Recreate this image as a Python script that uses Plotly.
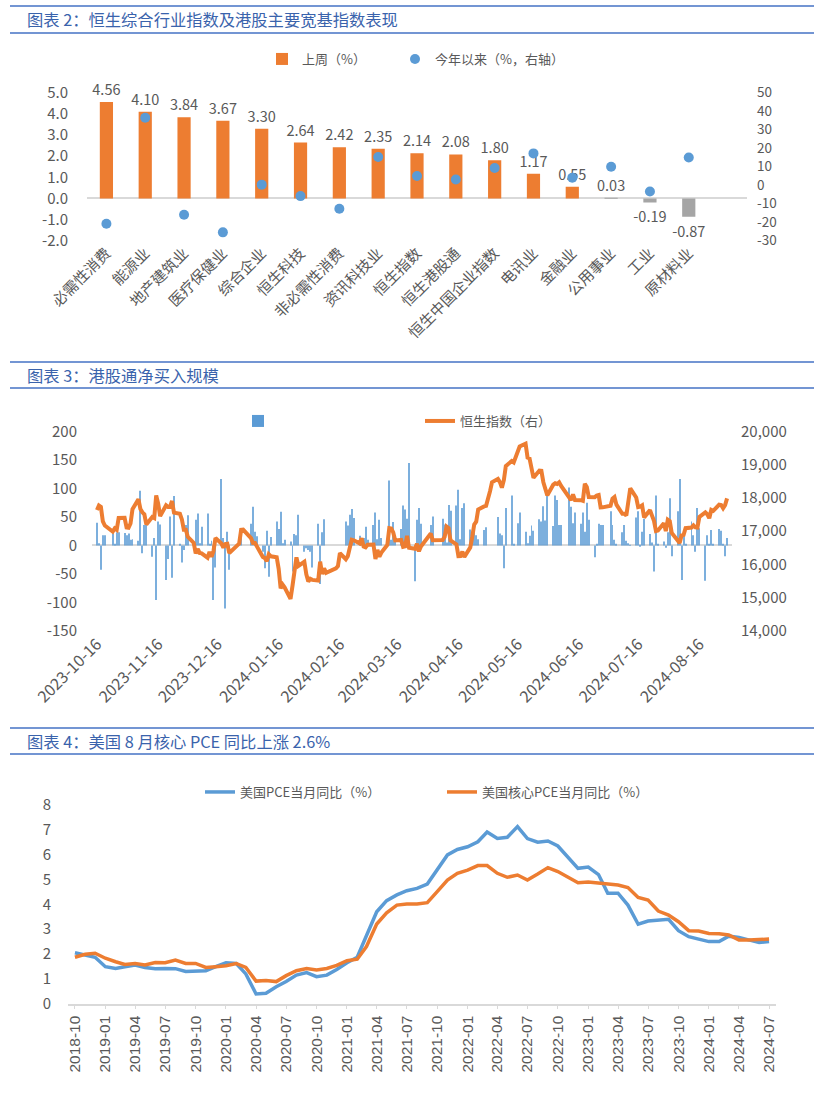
import pandas as pd
import plotly.graph_objects as go

W, H = 814, 1098

# ---------- 图表2 ----------
sectors = ["必需性消费", "能源业", "地产建筑业", "医疗保健业", "综合企业", "恒生科技",
           "非必需性消费", "资讯科技业", "恒生指数", "恒生港股通", "恒生中国企业指数",
           "电讯业", "金融业", "公用事业", "工业", "原材料业"]
week_pct = [4.56, 4.10, 3.84, 3.67, 3.30, 2.64, 2.42, 2.35, 2.14, 2.08, 1.80,
            1.17, 0.55, 0.03, -0.19, -0.87]
ytd_pct = [-20.8, 36.5, -16.0, -25.5, 0.3, -5.9, -12.7, 15.2, 5.0, 3.1, 9.3,
           17.2, 4.0, 10.0, -3.4, 15.0]
left_ticks1 = [-2, -1, 0, 1, 2, 3, 4, 5]
right_ticks1 = [-30, -20, -10, 0, 10, 20, 30, 40, 50]

# ---------- 图表3 ----------
hk_holidays = ["2023-10-23", "2023-12-25", "2023-12-26", "2024-01-01", "2024-02-12",
               "2024-02-13", "2024-03-29", "2024-04-01", "2024-04-04", "2024-05-01",
               "2024-05-15", "2024-06-10", "2024-07-01"]
trade_days = [d for d in pd.bdate_range("2023-10-16", "2024-08-30")
              if d.strftime("%Y-%m-%d") not in hk_holidays]

# 恒生指数收盘
hsi_close = [
    17640, 17773, 17732, 17295, 17172, 16991, 17085, 17044, 17399, 17406, 17112,
    17101, 17231, 17664, 17966, 17671, 17568, 17511, 17203, 17427, 17396, 18079,
    17833, 17454, 17779, 17733, 17734, 17911, 17559, 17525, 17354, 17043, 17042,
    16830, 16646, 16328, 16463, 16345, 16334, 16201, 16374, 16228, 16402, 16792,
    16629, 16505, 16613, 16621, 16341, 16625, 17043, 17047,
    16789, 16646, 16645, 16535, 16224, 16190, 16097, 16302, 16244, 16217, 15866,
    15277, 15391, 15309, 14961, 15353, 15900, 16212, 15952, 16077, 15703, 15485,
    15566, 15533, 15510, 16082, 15708, 15878, 15746, 15879, 15944, 16340, 16156,
    16248, 16503, 16743, 16726, 16634, 16790, 16536, 16511,
    16589, 16596, 16163, 16438, 16230, 16353, 16588, 17093, 17082, 16961, 16721,
    16737, 16529, 16543, 16863, 16499, 16473, 16618, 16392, 16541,
    16931, 16725, 16724, 16732, 16828, 17139, 17095, 16721, 16600, 16248, 16251,
    16385, 16224, 16511, 16828, 17201, 17284, 17651, 17747, 17763,
    18207, 18476, 18578, 18479, 18313, 18537, 18963, 19115, 19073, 19376, 19553,
    19636, 19221, 19195, 18868, 18609, 18827, 18821, 18477, 18230, 18080,
    18403, 18445, 18425, 18476, 18367, 17977, 17937, 18112, 17942, 17936, 17916,
    18430, 18335, 18028, 18027, 18072, 18089, 17716, 17719,
    17769, 17979, 18028, 17799, 17524, 17523, 17471, 17832, 18293, 18015, 17727,
    17739, 17778, 17417, 17635, 17469, 17311, 17005, 17022, 17238, 17002, 17345,
    17304, 16946, 16698, 16647, 16877, 16891, 17091, 17112, 17174, 17114, 17109,
    17430, 17569, 17511, 17391, 17641, 17612, 17798, 17790, 17692, 17786, 17989,
]

# 港股通净买入
southbound_net = [
    40, 4, -43, 18, 18, 21, 2, 23, 23, 22, 18,
    21, 10, 11, 8, 96, -14, 36, 38, -20, 13, -96,
    42, 37, -61, -24, 51, -57, 87, 3, -30, -8, 36,
    53, 4, 45, 56, 4, 33, 56, 2, 8, -96, -39,
    117, 13, -111, 24, -43, 5, 18, 0,
    38, 68, 24, 16, -11, -40, 26, -55, 15, 42, 29,
    59, 4, 10, 7, -46, 20, 18, 54, -11, -5, -8,
    -11, -39, 38, -68, 23, 46, 0, 0, 0, 0, 42,
    35, 54, 64, 48, 17, 10, 13, 33,
    10, 36, 58, 11, 45, 13, 3, 114, 10, 41, 7,
    29, 70, 63, 47, 145, -63, 45, 66, 38,
    36, 51, 0, 47, 37, 5, 71, 61, 70, 98, 11,
    66, 74, 28, 13, 33, 18, 11, 27, 32,
    0, 0, 50, 21, 18, -40, 66, 88, 2, 39, 58,
    24, 4, 17, 35, 26, 46, 42, 69, 44, 88,
    34, 88, 80, 36, 36, 102, 68, 39, 58, 38, 58,
    24, 75, 45, -21, 3, 38, 36, 36,
    60, 36, 10, 3, 23, 36, 8, 4, 1, 49, 60,
    -2, 24, 47, 20, 5, -46, 88, 3, 7, -4, 23,
    83, -19, 60, 117, -61, 18, 2, 42, 18, -11, 66,
    30, -62, 18, 3, 27, 2, 29, 26, 2, -19, 13,
]
flow_ticks = [-150, -100, -50, 0, 50, 100, 150, 200]
hsi_ticks = [14000, 15000, 16000, 17000, 18000, 19000, 20000]
date_ticks = ["2023-10-16", "2023-11-16", "2023-12-16", "2024-01-16", "2024-02-16",
              "2024-03-16", "2024-04-16", "2024-05-16", "2024-06-16", "2024-07-16",
              "2024-08-16"]

# ---------- 图表4 ----------
pce_months = pd.date_range("2018-10-01", "2024-07-01", freq="MS")
pce_yoy = [
    2.05, 1.96, 1.87,
    1.49, 1.42, 1.49, 1.56, 1.46, 1.41, 1.42, 1.41, 1.30, 1.33, 1.33, 1.49,
    1.65, 1.62, 1.20, 0.39, 0.42, 0.68, 0.89, 1.15, 1.25, 1.09, 1.15, 1.38,
    1.65, 1.87, 2.77, 3.70, 4.15, 4.38, 4.55, 4.64, 4.82, 5.38, 5.99, 6.21,
    6.32, 6.52, 6.91, 6.65, 6.70, 7.13, 6.65, 6.50, 6.55, 6.35, 5.90, 5.45,
    5.50, 5.20, 4.45, 4.45, 3.97, 3.20, 3.33, 3.37, 3.40, 2.94, 2.70, 2.60,
    2.50, 2.50, 2.72, 2.67, 2.56, 2.46, 2.50,
]
core_pce_yoy = [
    1.87, 1.99, 2.03,
    1.83, 1.69, 1.58, 1.62, 1.56, 1.66, 1.65, 1.76, 1.62, 1.62, 1.46, 1.49,
    1.53, 1.62, 1.46, 0.91, 0.93, 0.89, 1.13, 1.33, 1.42, 1.36, 1.42, 1.54,
    1.73, 1.79, 2.30, 3.21, 3.66, 3.97, 4.01, 4.01, 4.07, 4.51, 4.98, 5.25,
    5.38, 5.56, 5.56, 5.25, 5.09, 5.18, 4.98, 5.22, 5.48, 5.32, 5.11, 4.87,
    4.90, 4.85, 4.81, 4.78, 4.68, 4.28, 4.17, 3.73, 3.57, 3.30, 2.94, 2.93,
    2.83, 2.82, 2.77, 2.56, 2.56, 2.59, 2.60,
]

ORANGE = "#ED7D31"
BLUE = "#5B9BD5"
GREY = "#A5A5A5"
TXT = "#595959"
AXIS = "#D9D9D9"
TITLE_BLUE = "#3A63AC"
LINE_BLUE = "#4472C4"
FONT = "Noto Sans CJK SC"


def px(x):
    return x / W


def py(y):
    return 1 - y / H


n = min(len(trade_days), len(hsi_close), len(southbound_net))
trade_days = trade_days[:n]

fig = go.Figure()

# 图表2
bar_colors = [ORANGE if v > 0.1 else GREY for v in week_pct]
fig.add_trace(go.Bar(
    x=sectors, y=week_pct, name="上周（%）", width=0.34,
    marker=dict(color=bar_colors, line_width=0),
    text=[f"{v:.2f}" for v in week_pct], textposition="outside",
    constraintext="none", cliponaxis=False,
    textfont=dict(size=14.5, color=TXT),
    xaxis="x", yaxis="y", legend="legend"))
fig.add_trace(go.Scatter(
    x=sectors, y=ytd_pct, name="今年以来（%，右轴）", mode="markers",
    marker=dict(size=10, color=BLUE),
    xaxis="x", yaxis="y2", legend="legend4"))

# 图表3
fig.add_trace(go.Bar(
    x=trade_days, y=southbound_net[:n], name=" ", width=0.5 * 86400000,
    marker=dict(color=BLUE, line_width=0, opacity=0.8),
    xaxis="x2", yaxis="y3", legend="legend2"))
fig.add_trace(go.Scatter(
    x=trade_days, y=hsi_close[:n], name="恒生指数（右）", mode="lines",
    line=dict(color=ORANGE, width=4),
    xaxis="x2", yaxis="y4", legend="legend5"))

# 图表4
fig.add_trace(go.Scatter(
    x=pce_months, y=pce_yoy, name="美国PCE当月同比（%）", mode="lines",
    line=dict(color=BLUE, width=3.5), xaxis="x3", yaxis="y5", legend="legend3"))
fig.add_trace(go.Scatter(
    x=pce_months, y=core_pce_yoy, name="美国核心PCE当月同比（%）", mode="lines",
    line=dict(color=ORANGE, width=3.5), xaxis="x3", yaxis="y5", legend="legend6"))

tick_font = dict(family=FONT, size=15, color=TXT)
small_tick_font = dict(family=FONT, size=13.5, color=TXT)
legend_font = dict(family=FONT, size=13, color=TXT)


def legend_at(x, y):
    return dict(orientation="h", x=px(x), y=py(y), xanchor="left", yanchor="middle",
                bgcolor="rgba(0,0,0,0)", font=legend_font)


fig.update_layout(
    width=W, height=H, margin=dict(l=0, r=0, t=0, b=0, autoexpand=False),
    paper_bgcolor="white", plot_bgcolor="white",
    font=dict(family=FONT, size=14, color=TXT),
    showlegend=True, hovermode=False,
    xaxis=dict(domain=[px(87), px(747)], type="category", range=[-0.5, 16.5],
               tickangle=-45, showgrid=False, showline=False, ticks="",
               tickfont=tick_font, anchor="y", automargin=False),
    yaxis=dict(domain=[py(240.7), py(92.7)], range=[-2, 5], showgrid=False,
               tickvals=left_ticks1, ticktext=[f"{v:.1f}" for v in left_ticks1],
               zeroline=True, zerolinecolor=AXIS, zerolinewidth=1.5,
               ticklabelstandoff=18, tickfont=tick_font, anchor="x", automargin=False),
    yaxis2=dict(overlaying="y", side="right", range=[-30, 50], showgrid=False,
                tickvals=right_ticks1, ticktext=[str(v) for v in right_ticks1],
                zeroline=False, ticklabelstandoff=9, tickfont=small_tick_font,
                anchor="x", automargin=False),
    xaxis2=dict(domain=[px(92), px(732)], type="date",
                range=["2023-10-13 12:00", "2024-09-01 12:00"],
                tickvals=date_ticks, ticktext=date_ticks, tickangle=-45,
                showgrid=False, showline=False, ticks="",
                tickfont=dict(family=FONT, size=16, color=TXT),
                anchor="y3", automargin=False),
    yaxis3=dict(domain=[py(630.7), py(431.7)], range=[-150, 200], showgrid=False,
                tickvals=flow_ticks, ticktext=[str(v) for v in flow_ticks],
                zeroline=True, zerolinecolor=AXIS, zerolinewidth=1.5,
                ticklabelstandoff=14, tickfont=tick_font, anchor="x2", automargin=False),
    yaxis4=dict(overlaying="y3", side="right", range=[14000, 20000], showgrid=False,
                tickvals=hsi_ticks, ticktext=[f"{v:,}" for v in hsi_ticks],
                zeroline=False, ticklabelstandoff=8, tickfont=tick_font, anchor="x2",
                automargin=False),
    xaxis3=dict(domain=[px(68), px(776)], type="date",
                range=["2018-09-10", "2024-07-22"],
                dtick="M3", tick0="2018-10-01", tickformat="%Y-%m", tickangle=-90,
                showgrid=False, showline=True, linecolor=AXIS, linewidth=1.5,
                ticks="outside", ticklen=4, tickcolor=AXIS, tickwidth=1,
                tickfont=dict(family="Liberation Sans", size=15.5, color=TXT),
                anchor="y5", automargin=False),
    yaxis5=dict(domain=[py(1003.7), py(805)], range=[0, 8], dtick=1, showgrid=False,
                zeroline=False, ticklabelstandoff=16,
                tickfont=dict(family=FONT, size=15, color=TXT), anchor="x3",
                automargin=False),
    legend=legend_at(262, 59),
    legend4=legend_at(395, 59),
    legend2=legend_at(238, 421),
    legend5=legend_at(420, 421),
    legend3=legend_at(200, 792),
    legend6=legend_at(442, 792),
)

# 标题栏
titles = [("图表 2：恒生综合行业指数及港股主要宽基指数表现", 6, 33),
          ("图表 3：港股通净买入规模", 362, 388),
          ("图表 4：美国 8 月核心 PCE 同比上涨 2.6%", 728, 754)]
for text, y_top, y_bot in titles:
    for yy in (y_top, y_bot):
        fig.add_shape(type="line", xref="paper", yref="paper", x0=px(10), x1=1,
                      y0=py(yy), y1=py(yy), line=dict(color=LINE_BLUE, width=1.5))
    fig.add_annotation(text=text, xref="paper", yref="paper", x=px(25),
                       y=py((y_top + y_bot) / 2), xanchor="left", yanchor="middle",
                       showarrow=False, font=dict(family=FONT, size=16.3, color=TITLE_BLUE))

# 页面去掉默认 8px 边距，让图正好占满窗口
fig.write_html("out.html", config={"displayModeBar": False},
               post_script="document.body.style.margin='0';")
